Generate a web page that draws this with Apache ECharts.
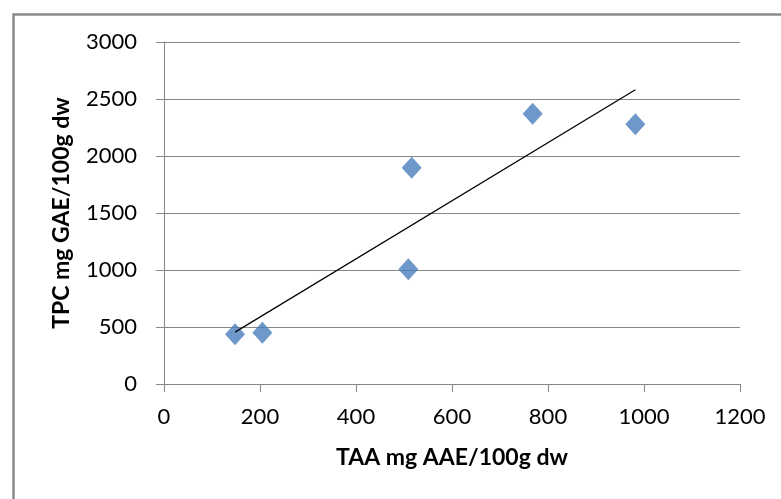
<!DOCTYPE html>
<html>
<head>
<meta charset="utf-8">
<script src="https://cdn.jsdelivr.net/npm/echarts@6/dist/echarts.min.js"></script>
<style>
html,body{margin:0;padding:0;background:#fff;}
#chart{width:781px;height:499px;}
</style>
</head>
<body>
<div id="chart"></div>
<script>
// Data
const taa = [148, 205, 509, 516, 768, 982];     // TAA mg AAE/100g dw
const tpc = [436, 450, 1006, 1898, 2371, 2278]; // TPC mg GAE/100g dw
const xTicks = [0, 200, 400, 600, 800, 1000, 1200];
const yTicks = [0, 500, 1000, 1500, 2000, 2500, 3000];
const xTitle = 'TAA mg AAE/100g dw';
const yTitle = 'TPC mg GAE/100g dw';

// Linear trendline (least squares) over the data
const n = taa.length;
const mx = taa.reduce((a, b) => a + b, 0) / n;
const my = tpc.reduce((a, b) => a + b, 0) / n;
let sxy = 0, sxx = 0;
for (let i = 0; i < n; i++) { sxy += (taa[i] - mx) * (tpc[i] - my); sxx += (taa[i] - mx) ** 2; }
const slope = sxy / sxx, icpt = my - slope * mx;
const xMinD = Math.min(...taa), xMaxD = Math.max(...taa);
const trend = [[xMinD, icpt + slope * xMinD], [xMaxD, icpt + slope * xMaxD]];

const points = taa.map((x, i) => [x, tpc[i]]);
const font = 'Lato, "Open Sans", sans-serif';
const chart = echarts.init(document.getElementById('chart'), null, {renderer: 'canvas'});
chart.setOption({
  animation: false,
  backgroundColor: '#fff',
  graphic: [{
    type: 'rect', left: 11, top: 12, silent: true,
    shape: {width: 800, height: 520},
    style: {fill: 'none', stroke: '#8a8a8a', lineWidth: 2.5}
  }],
  grid: {left: 164, right: 41, top: 42, bottom: 115},
  xAxis: {
    type: 'value', min: xTicks[0], max: xTicks[xTicks.length - 1], interval: 200,
    name: xTitle, nameLocation: 'middle', nameGap: 62,
    nameTextStyle: {fontFamily: font, fontWeight: 'bold', fontSize: 23, color: '#000'},
    axisLine: {show: true, lineStyle: {color: '#868686', width: 1}},
    axisTick: {show: true, inside: false, length: 8, lineStyle: {color: '#868686'}},
    axisLabel: {fontFamily: font, fontSize: 22, color: '#000', margin: 22, formatter: v => String(v)},
    splitLine: {show: false}
  },
  yAxis: {
    type: 'value', min: yTicks[0], max: yTicks[yTicks.length - 1], interval: 500,
    name: yTitle, nameLocation: 'middle', nameGap: 91,
    nameTextStyle: {fontFamily: font, fontWeight: 'bold', fontSize: 23, color: '#000'},
    axisLine: {show: true, lineStyle: {color: '#868686', width: 1}},
    axisTick: {show: true, inside: false, length: 8, lineStyle: {color: '#868686'}},
    axisLabel: {fontFamily: font, fontSize: 22, color: '#000', margin: 27, formatter: v => String(v)},
    splitLine: {show: true, lineStyle: {color: '#868686', width: 1}}
  },
  series: [{
    type: 'scatter', data: points, symbol: 'diamond', symbolSize: [20, 22],
    itemStyle: {color: '#4A7EBB'}, z: 3
  }, {
    type: 'line', data: trend, symbol: 'none', z: 4,
    lineStyle: {color: '#000', width: 1.2}
  }]
});
</script>
</body>
</html>
